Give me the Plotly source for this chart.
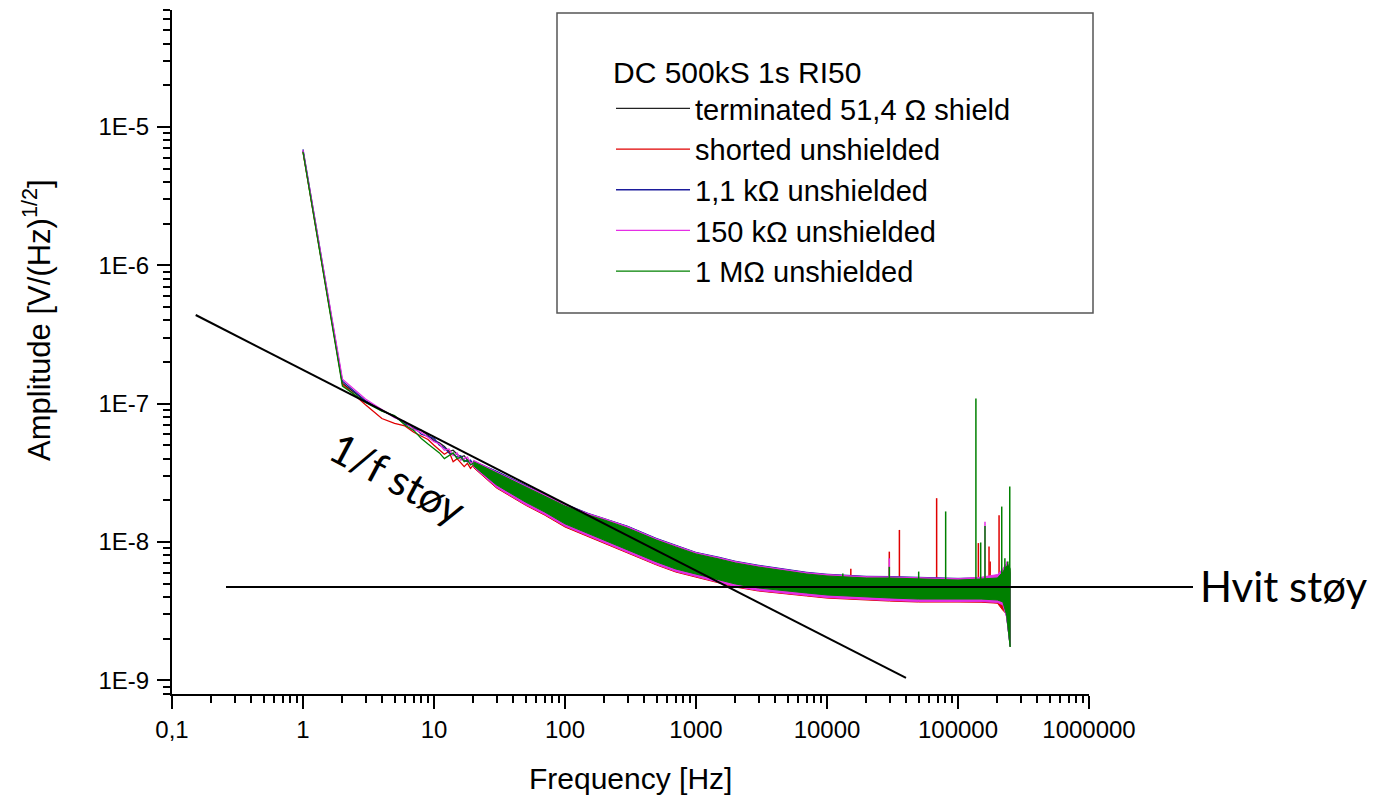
import plotly.graph_objects as go

# ---------------- data ----------------
series_names = ["terminated 51,4 \u03a9 shield", "shorted unshielded", "1,1 k\u03a9 unshielded",
                "150 k\u03a9 unshielded", "1 M\u03a9 unshielded"]
series_colors = ["#222222", "#e00000", "#1c1c9c", "#e52ee5", "#008000"]

# low-frequency part (1 Hz bins)
lf_f = [1, 2, 3, 4, 5, 6, 7, 8, 9, 10, 11, 12, 13, 14, 15, 16, 17, 18, 19, 20]
black_lf = [6.7e-6, 1.40e-7, 1.04e-7, 9.0e-8, 8.0e-8, 7.3e-8, 6.6e-8, 6.4e-8, 5.9e-8, 5.4e-8,
            5.2e-8, 4.9e-8, 4.5e-8, 4.6e-8, 4.3e-8, 4.1e-8, 4.2e-8, 3.9e-8, 3.8e-8, 3.7e-8]
red_lf = [6.6e-6, 1.38e-7, 9.8e-8, 7.8e-8, 7.2e-8, 6.9e-8, 6.2e-8, 5.8e-8, 5.5e-8, 5.0e-8,
          4.6e-8, 4.3e-8, 4.5e-8, 3.8e-8, 4.0e-8, 3.7e-8, 3.5e-8, 3.7e-8, 3.4e-8, 3.6e-8]
blue_lf = [6.9e-6, 1.45e-7, 1.05e-7, 8.9e-8, 8.1e-8, 7.1e-8, 6.8e-8, 6.0e-8, 5.8e-8, 5.6e-8,
           5.0e-8, 4.8e-8, 4.4e-8, 4.3e-8, 4.1e-8, 4.2e-8, 3.9e-8, 3.8e-8, 3.9e-8, 3.6e-8]
magenta_lf = [6.8e-6, 1.50e-7, 1.08e-7, 9.1e-8, 7.9e-8, 7.4e-8, 6.5e-8, 6.2e-8, 5.7e-8, 5.3e-8,
              5.1e-8, 4.6e-8, 4.7e-8, 4.2e-8, 4.4e-8, 3.9e-8, 4.0e-8, 4.1e-8, 3.7e-8, 3.8e-8]
green_lf = [6.6e-6, 1.34e-7, 1.02e-7, 8.8e-8, 8.2e-8, 7.0e-8, 6.4e-8, 5.6e-8, 5.1e-8, 4.7e-8,
            4.4e-8, 4.0e-8, 4.2e-8, 4.4e-8, 4.0e-8, 4.1e-8, 3.8e-8, 3.9e-8, 3.6e-8, 3.7e-8]

# dense noise band: upper / lower envelope of each spectrum
band_f = [20, 30, 50, 70, 100, 150, 200, 300, 500, 700, 1000, 1500, 2000, 3000, 5000, 7000,
          10000, 20000, 30000, 50000, 100000, 150000, 200000, 220000, 235000, 245000, 250000]
black_up = [3.8e-8, 3.12e-8, 2.47e-8, 2.13e-8, 1.8e-8, 1.55e-8, 1.43e-8, 1.25e-8, 1.02e-8, 9.1e-9,
            8.1e-9, 7.45e-9, 6.98e-9, 6.52e-9, 6.1e-9, 5.82e-9, 5.63e-9, 5.45e-9, 5.44e-9, 5.36e-9,
            5.28e-9, 5.35e-9, 5.45e-9, 5.9e-9, 6.4e-9, 6.3e-9, 6.0e-9]
black_lo = [3.53e-8, 2.53e-8, 1.9e-8, 1.61e-8, 1.32e-8, 1.14e-8, 1.01e-8, 8.57e-9, 7.02e-9, 6.24e-9,
            5.74e-9, 5.19e-9, 4.86e-9, 4.55e-9, 4.33e-9, 4.18e-9, 4.05e-9, 3.91e-9, 3.85e-9, 3.78e-9,
            3.78e-9, 3.78e-9, 3.72e-9, 3.6e-9, 2.9e-9, 2.1e-9, 1.75e-9]
red_up = [3.7e-8, 3.05e-8, 2.4e-8, 2.08e-8, 1.77e-8, 1.52e-8, 1.40e-8, 1.22e-8, 1.0e-8, 8.9e-9,
          7.95e-9, 7.3e-9, 6.85e-9, 6.4e-9, 6.0e-9, 5.7e-9, 5.5e-9, 5.35e-9, 5.33e-9, 5.25e-9,
          5.2e-9, 5.25e-9, 5.3e-9, 5.6e-9, 5.8e-9, 5.6e-9, 5.0e-9]
red_lo = [3.45e-8, 2.45e-8, 1.84e-8, 1.56e-8, 1.28e-8, 1.10e-8, 9.8e-9, 8.3e-9, 6.8e-9, 6.05e-9,
          5.57e-9, 5.04e-9, 4.71e-9, 4.41e-9, 4.2e-9, 4.06e-9, 3.92e-9, 3.79e-9, 3.73e-9, 3.67e-9,
          3.67e-9, 3.66e-9, 3.6e-9, 3.2e-9, 3.0e-9, 2.4e-9, 1.9e-9]
blue_up = [3.85e-8, 3.25e-8, 2.57e-8, 2.22e-8, 1.88e-8, 1.61e-8, 1.48e-8, 1.30e-8, 1.06e-8, 9.45e-9,
           8.4e-9, 7.75e-9, 7.25e-9, 6.78e-9, 6.35e-9, 6.03e-9, 5.84e-9, 5.64e-9, 5.62e-9, 5.55e-9,
           5.45e-9, 5.5e-9, 5.6e-9, 6.0e-9, 6.3e-9, 6.2e-9, 5.9e-9]
blue_lo = [3.52e-8, 2.5e-8, 1.88e-8, 1.6e-8, 1.31e-8, 1.125e-8, 1.0e-8, 8.48e-9, 6.95e-9, 6.18e-9,
           5.68e-9, 5.14e-9, 4.81e-9, 4.5e-9, 4.29e-9, 4.14e-9, 4.0e-9, 3.87e-9, 3.81e-9, 3.74e-9,
           3.74e-9, 3.74e-9, 3.69e-9, 3.55e-9, 2.9e-9, 2.15e-9, 1.77e-9]
magenta_up = [3.9e-8, 3.2e-8, 2.54e-8, 2.2e-8, 1.86e-8, 1.6e-8, 1.47e-8, 1.29e-8, 1.05e-8, 9.4e-9,
              8.35e-9, 7.68e-9, 7.2e-9, 6.72e-9, 6.3e-9, 5.98e-9, 5.8e-9, 5.6e-9, 5.58e-9, 5.5e-9,
              5.42e-9, 5.55e-9, 5.8e-9, 6.4e-9, 7.0e-9, 6.8e-9, 6.2e-9]
magenta_lo = [3.5e-8, 2.48e-8, 1.86e-8, 1.58e-8, 1.30e-8, 1.11e-8, 9.9e-9, 8.4e-9, 6.87e-9, 6.12e-9,
              5.63e-9, 5.09e-9, 4.76e-9, 4.45e-9, 4.24e-9, 4.1e-9, 3.96e-9, 3.83e-9, 3.77e-9, 3.71e-9,
              3.7e-9, 3.7e-9, 3.65e-9, 3.5e-9, 2.85e-9, 2.1e-9, 1.76e-9]
green_up = [3.8e-8, 3.15e-8, 2.49e-8, 2.15e-8, 1.82e-8, 1.565e-8, 1.44e-8, 1.26e-8, 1.03e-8, 9.19e-9,
            8.18e-9, 7.52e-9, 7.04e-9, 6.58e-9, 6.16e-9, 5.86e-9, 5.67e-9, 5.48e-9, 5.48e-9, 5.39e-9,
            5.30e-9, 5.39e-9, 5.48e-9, 6.06e-9, 6.70e-9, 6.70e-9, 6.40e-9]
green_lo = [3.55e-8, 2.58e-8, 1.94e-8, 1.645e-8, 1.35e-8, 1.16e-8, 1.03e-8, 8.74e-9, 7.16e-9, 6.37e-9,
            5.86e-9, 5.30e-9, 4.96e-9, 4.64e-9, 4.42e-9, 4.27e-9, 4.13e-9, 3.99e-9, 3.93e-9, 3.86e-9,
            3.86e-9, 3.86e-9, 3.80e-9, 3.68e-9, 2.96e-9, 2.12e-9, 1.74e-9]

# narrow interference peaks standing out of the noise floor
spike_base = 5.0e-9
black_spike_f, black_spike_a = [], []
red_spike_f = [15200, 29900, 35700, 68700, 143000, 172500, 176000, 205800]
red_spike_a = [6.4e-9, 8.5e-9, 1.22e-8, 2.07e-8, 9.8e-9, 9.25e-9, 7.2e-9, 1.56e-8]
blue_spike_f, blue_spike_a = [], []
magenta_spike_f = [29900, 160700, 236000]
magenta_spike_a = [7.6e-9, 1.40e-8, 7.2e-9]
green_spike_f = [13200, 29900, 50100, 80500, 137000, 149000, 160700, 215700, 228000, 240000, 248400]
green_spike_a = [5.9e-9, 6.6e-9, 6.1e-9, 1.66e-8, 1.09e-7, 9.9e-9, 1.30e-8, 1.80e-8, 7.6e-9, 7.2e-9, 2.51e-8]

# guide lines
flicker_f = [0.1517, 40100]
flicker_a = [4.37e-7, 1.04e-9]
white_level = 4.72e-9

legend_title = "DC 500kS 1s RI50"
x_tickvals = [0.1, 1, 10, 100, 1000, 10000, 100000, 1000000]
x_ticktext = ["0,1", "1", "10", "100", "1000", "10000", "100000", "1000000"]
y_tickvals = [1e-9, 1e-8, 1e-7, 1e-6, 1e-5]
y_ticktext = ["1E-9", "1E-8", "1E-7", "1E-6", "1E-5"]

# ---------------- figure ----------------
lf_all = [black_lf, red_lf, blue_lf, magenta_lf, green_lf]
up_all = [black_up, red_up, blue_up, magenta_up, green_up]
lo_all = [black_lo, red_lo, blue_lo, magenta_lo, green_lo]
spf_all = [black_spike_f, red_spike_f, blue_spike_f, magenta_spike_f, green_spike_f]
spa_all = [black_spike_a, red_spike_a, blue_spike_a, magenta_spike_a, green_spike_a]

fig = go.Figure()
for name, col, lf, up, lo, spf, spa in zip(series_names, series_colors, lf_all, up_all, lo_all,
                                            spf_all, spa_all):
    fig.add_trace(go.Scatter(x=lf_f, y=lf, mode="lines", name=name, legendgroup=name,
                             line=dict(color=col, width=1.3)))
    fig.add_trace(go.Scatter(x=band_f + band_f[::-1], y=up + lo[::-1], mode="lines",
                             fill="toself", fillcolor=col, legendgroup=name, showlegend=False,
                             line=dict(color=col, width=1)))
    if spf:
        sx, sy = [], []
        for f, a in zip(spf, spa):
            sx += [f, f, None]
            sy += [spike_base, a, None]
        fig.add_trace(go.Scatter(x=sx, y=sy, mode="lines", legendgroup=name, showlegend=False,
                                 line=dict(color=col, width=1.5)))

fig.add_trace(go.Scatter(x=flicker_f, y=flicker_a, mode="lines", showlegend=False,
                         line=dict(color="black", width=2)))

L, R, T, B = 172, 291, 10, 104
W, H = 1380, 798
pw, ph = W - L - R, H - T - B


def px(xp):
    return (xp - L) / pw


def py(yp):
    return (H - B - yp) / ph


# white noise level line (extends past the axes to the label)
fig.add_shape(type="line", xref="paper", yref="y", x0=px(226), x1=px(1193),
              y0=white_level, y1=white_level, line=dict(color="black", width=2))
# legend frame
fig.add_shape(type="rect", xref="paper", yref="paper", x0=px(557), x1=px(1093),
              y0=py(313), y1=py(13), line=dict(color="#555555", width=1.5))

font_main = "Liberation Sans, Arial, sans-serif"
minor_x = [m * 10.0 ** d for d in range(-1, 6) for m in range(2, 10)]
minor_y = [m * 10.0 ** d for d in range(-10, -4) for m in range(2, 10)]

axis_common = dict(type="log", showgrid=False, zeroline=False, showline=True, linecolor="black",
                   linewidth=2, ticks="outside", ticklen=13, tickwidth=2, tickcolor="black",
                   tickfont=dict(family=font_main, size=24, color="black"), mirror=False)

fig.update_xaxes(**axis_common, range=[-1, 6], tickmode="array", tickvals=x_tickvals,
                 ticktext=x_ticktext, ticklabelstandoff=0,
                 minor=dict(tickmode="array", tickvals=minor_x, ticks="outside", ticklen=7,
                            tickwidth=1.5, tickcolor="black", showgrid=False))
fig.update_yaxes(**axis_common, range=[-9.10, -4.154], tickmode="array", tickvals=y_tickvals,
                 ticktext=y_ticktext, ticklabelstandoff=3,
                 minor=dict(tickmode="array", tickvals=minor_y, ticks="outside", ticklen=7,
                            tickwidth=1.5, tickcolor="black", showgrid=False))

fig.add_annotation(text="Frequency [Hz]", xref="paper", yref="paper", x=px(630), y=py(778),
                   xanchor="center", yanchor="middle", showarrow=False,
                   font=dict(family=font_main, size=30, color="black"))
fig.add_annotation(text="Amplitude [V/(Hz)<sup>1/2</sup>]", xref="paper", yref="paper",
                   x=px(37), y=py(320), xanchor="center", yanchor="middle", textangle=-90,
                   showarrow=False, font=dict(family=font_main, size=31, color="black"))
fig.add_annotation(text="Hvit st\u00f8y", xref="paper", yref="paper", x=px(1198), y=py(586),
                   xanchor="left", yanchor="middle", showarrow=False,
                   font=dict(family="Lato, sans-serif", size=42, color="black"))
fig.add_annotation(text="1/f st\u00f8y", xref="paper", yref="paper", x=px(398), y=py(478),
                   xanchor="center", yanchor="middle", textangle=28, showarrow=False,
                   font=dict(family="Lato, sans-serif", size=42, color="black"))

fig.update_layout(
    width=W, height=H, margin=dict(l=L, r=R, t=T, b=B), autosize=False,
    paper_bgcolor="white", plot_bgcolor="white",
    showlegend=True,
    legend=dict(x=px(611), y=py(44), xanchor="left", yanchor="top", bgcolor="rgba(0,0,0,0)",
                borderwidth=0, itemwidth=74, tracegroupgap=0,
                title=dict(text=legend_title, font=dict(family=font_main, size=30, color="black")),
                font=dict(family=font_main, size=29, color="black")),
)

fig.write_html("out.html", config={"displayModeBar": False},
               post_script="document.body.style.margin='0px';")
